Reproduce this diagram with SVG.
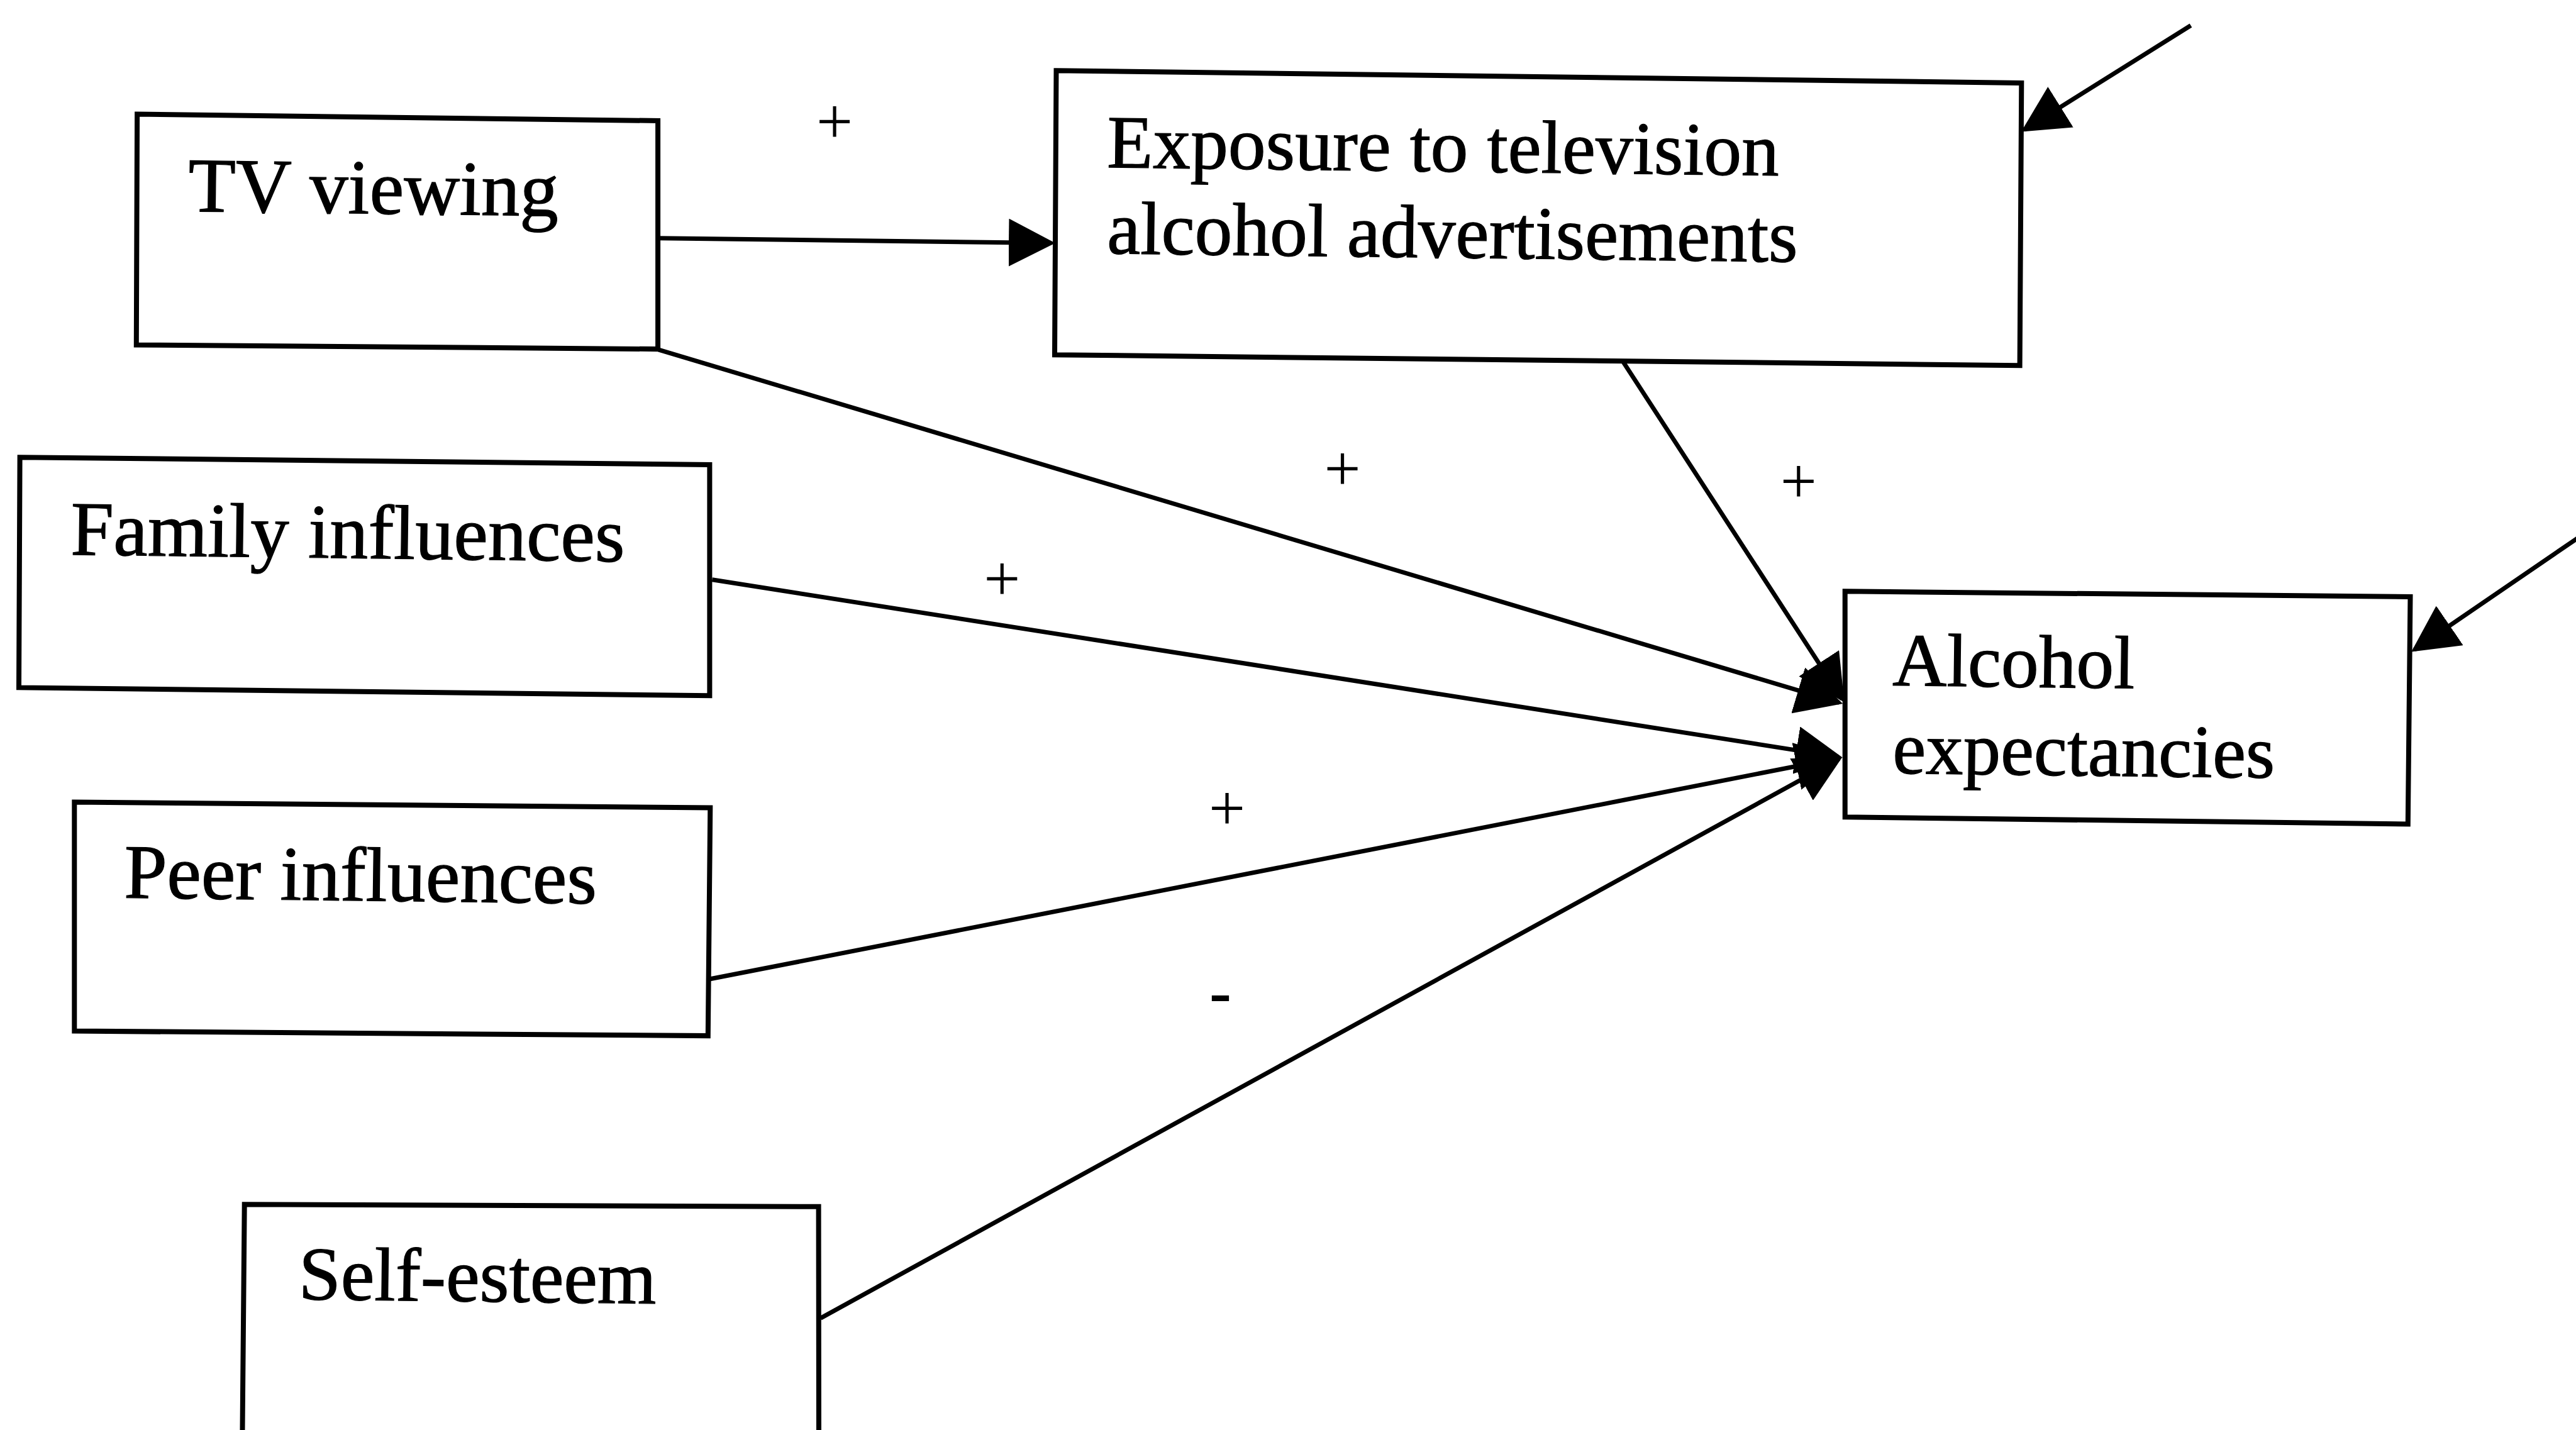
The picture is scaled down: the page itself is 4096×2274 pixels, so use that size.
<svg xmlns="http://www.w3.org/2000/svg" width="4096" height="2274" viewBox="0 0 4096 2274">
  <style>
    .box { fill: #ffffff; stroke: #000000; stroke-width: 8; stroke-linejoin: miter; }
    .lbl { font-family: "Liberation Serif", "Times New Roman", serif; font-size: 119.5px; fill: #000000; stroke: #000000; stroke-width: 1.3; }
    .sign { font-family: "Liberation Serif", "Times New Roman", serif; font-size: 103px; fill: #000000; text-anchor: middle; }
    .neg { font-family: "Liberation Serif", "Times New Roman", serif; font-size: 105px; font-weight: bold; fill: #000000; text-anchor: middle; }
    .edge { fill: none; stroke: #000000; stroke-width: 7; marker-end: url(#head); }
  </style>
  <defs>
    <marker id="head" markerUnits="userSpaceOnUse" viewBox="0 0 74 76" markerWidth="74" markerHeight="76" refX="68" refY="38" orient="auto">
      <path d="M0,0 L74,38 L0,76 Z" fill="#000000"/>
    </marker>
  </defs>
  <rect width="4096" height="2274" fill="#ffffff"/>

  <!-- boxes (drawn slightly skewed, as printed) -->
  <g id="tv-viewing">
    <polygon class="box" points="218.1,181.5 1046.1,192 1046.1,555.1 216.8,548.5"/>
    <text class="lbl" x="299" y="336" style="font-size:123px" transform="rotate(0.7 299 336)">TV viewing</text>
  </g>
  <g id="exposure-ads">
    <polygon class="box" points="1679.5,112.3 3214.3,131.9 3211.6,581.2 1677,564.2"/>
    <text class="lbl" x="1760" y="266" transform="rotate(0.7 1760 266)">Exposure to television</text>
    <text class="lbl" x="1760" y="403" transform="rotate(0.7 1760 403)">alcohol advertisements</text>
  </g>
  <g id="family-influences">
    <polygon class="box" points="31.6,727.2 1128.4,739 1128.4,1106.2 30,1093.4"/>
    <text class="lbl" x="112" y="882" style="font-size:122.5px" transform="rotate(0.7 112 882)">Family influences</text>
  </g>
  <g id="peer-influences">
    <polygon class="box" points="118.3,1275.5 1129.3,1284.5 1125.8,1647.1 118.3,1639.6"/>
    <text class="lbl" x="197" y="1427.5" style="font-size:122.5px" transform="rotate(0.7 197 1427.5)">Peer influences</text>
  </g>
  <g id="self-esteem">
    <path class="box" d="M385.3,2295 L388.7,1915.2 L1301.6,1918.8 L1302,2295"/>
    <text class="lbl" x="474.5" y="2066" style="font-size:120.5px" transform="rotate(0.7 474.5 2066)">Self-esteem</text>
  </g>
  <g id="alcohol-expectancies">
    <polygon class="box" points="2933.7,940.3 3832.5,949 3828.8,1310.5 2933.7,1299.2"/>
    <text class="lbl" x="3009" y="1089.8" transform="rotate(0.7 3009 1089.8)">Alcohol</text>
    <text class="lbl" x="3009" y="1229.5" style="font-size:119px" transform="rotate(0.7 3009 1229.5)">expectancies</text>
  </g>

  <!-- paths between constructs -->
  <g id="connectors">
    <line class="edge" x1="1047.4" y1="378.7" x2="1672" y2="386.5"/>
    <line class="edge" x1="1047.3" y1="556.1" x2="2924.4" y2="1117.4"/>
    <line class="edge" x1="2580.4" y1="574.6" x2="2929.3" y2="1111.8"/>
    <line class="edge" x1="1132.3" y1="921.8" x2="2923.6" y2="1203.6"/>
    <line class="edge" x1="1129.3" y1="1556.8" x2="2923.6" y2="1205.3"/>
    <line class="edge" x1="1304.9" y1="2096.1" x2="2924.1" y2="1206.8"/>
    <!-- residual (error) terms -->
    <line class="edge" x1="3483.5" y1="40.5" x2="3218.9" y2="206.3"/>
    <line class="edge" x1="4107.6" y1="849.5" x2="3839.1" y2="1033.2"/>
  </g>

  <!-- path signs -->
  <g id="signs">
    <text class="sign" x="1327" y="227.6">+</text>
    <text class="sign" x="2134.6" y="780.2">+</text>
    <text class="sign" x="2859.8" y="800.4">+</text>
    <text class="sign" x="1593.3" y="954.6">+</text>
    <text class="sign" x="1951" y="1319.5">+</text>
    <text class="neg" x="1940.4" y="1611.6">-</text>
  </g>
</svg>
